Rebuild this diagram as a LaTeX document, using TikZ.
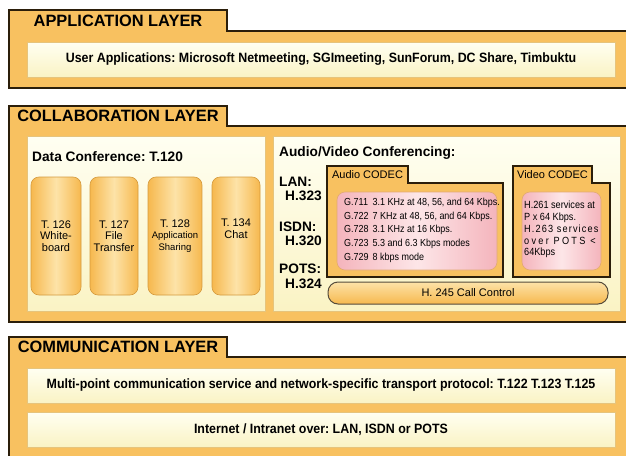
\documentclass[tikz,border=0pt]{standalone}
\usepackage{fontspec}
\setmainfont{Liberation Sans}
\newfontfamily\narrowsans[FakeStretch=0.92]{Liberation Sans}
\newfontfamily\codecsans[FakeStretch=0.88]{Liberation Sans}
\frenchspacing
\definecolor{layerorange}{HTML}{F8C160}
\definecolor{layerline}{HTML}{2B1E0A}
\definecolor{creamtop}{HTML}{FFFFF2}
\definecolor{creambot}{HTML}{FAF3C4}
\definecolor{barline}{HTML}{E6C47C}
\definecolor{pillorange}{HTML}{F6B84E}
\definecolor{pilllight}{HTML}{FDE3A8}
\definecolor{pillline}{HTML}{D49A3E}
\definecolor{pinkedge}{HTML}{F4B4BC}
\definecolor{pinklight}{HTML}{FDE6E8}
\definecolor{pinkline}{HTML}{E2AA72}
\begin{document}
\begin{tikzpicture}[x=1pt,y=-1pt,
    layer/.style={draw=layerline,line width=1.8pt,fill=layerorange},
    tablabel/.style={font=\bfseries\fontsize{16.4}{18}\selectfont},
    bar/.style={draw=barline,line width=0.8pt,top color=creamtop,bottom color=creambot,
      minimum width=588pt,minimum height=35pt,inner sep=0pt,
      font=\narrowsans\bfseries\fontsize{13.5}{15}\selectfont},
    panel/.style={draw=barline,line width=0.8pt,top color=creamtop,bottom color=creambot,
      minimum height=175pt,inner sep=0pt},
    heading/.style={anchor=west,inner sep=0pt,font=\bfseries\fontsize{13.7}{15}\selectfont},
    pill/.style={draw=pillline,line width=0.6pt,rounded corners=8pt,
      left color=pillorange,right color=pillorange,middle color=pilllight,
      minimum height=118pt,inner sep=0pt,align=center,font=\fontsize{11}{11.7}\selectfont},
    codec/.style={draw=layerline,line width=1.8pt,fill=layerorange},
    codeclabel/.style={font=\fontsize{11}{12}\selectfont},
    pinkbox/.style={draw=pinkline,line width=0.6pt,rounded corners=8pt,
      left color=pinkedge,right color=pinkedge,middle color=pinklight,
      minimum height=78pt,inner sep=0pt},
    callbox/.style={draw=layerline!80,line width=1pt,rounded corners=10pt,
      top color=pilllight,bottom color=pillorange,
      minimum width=280pt,minimum height=22pt,inner sep=0pt,
      font=\fontsize{11}{12}\selectfont}]
\useasboundingbox (0,0) rectangle (626,455);
\clip (0,0) rectangle (626,455);
\fill[white] (0,0) rectangle (626,455);

\draw[layer] (9,88) -- (9,10) -- (227,10) -- (227,31) -- (640,31) -- (640,88) -- cycle;
\node[tablabel] (apptab) at (118,21) {APPLICATION LAYER};
\node[bar] (apps) at (321,59.5) {User Applications: Microsoft Netmeeting, SGImeeting, SunForum, DC Share, Timbuktu};

\draw[layer] (9,322) -- (9,106) -- (227,106) -- (227,126) -- (640,126) -- (640,322) -- cycle;
\node[tablabel] (collabtab) at (118,116) {COLLABORATION LAYER};
\node[panel,minimum width=238pt] (dataconf) at (146,223.5) {};
\node[heading] (dctitle) at (32,157) {Data Conference: T.120};
\node[pill,minimum width=50pt] (t126) at (56,236) {T. 126\\White-\\board};
\node[pill,minimum width=48pt] (t127) at (114,236) {T. 127\\File\\Transfer};
\node[pill,minimum width=54pt] (t128) at (175,236) {T. 128\\{\fontsize{9.5}{11.7}\selectfont Application}\\{\fontsize{9.5}{11.7}\selectfont Sharing}};
\node[pill,minimum width=48pt] (t134) at (236,236) {T. 134\\Chat\\\strut};

\node[panel,minimum width=347pt] (avconf) at (446.5,223.5) {};
\node[heading] (avtitle) at (279,153) {Audio/Video Conferencing:};
\node[heading] (lan) at (279,182) {LAN:};
\node[heading,anchor=east] (h323) at (322,196) {H.323};
\node[heading] (isdn) at (279,227) {ISDN:};
\node[heading,anchor=east] (h320) at (322,241) {H.320};
\node[heading] (pots) at (279,269) {POTS:};
\node[heading,anchor=east] (h324) at (322,284) {H.324};

\draw[codec] (327,277) -- (327,166) -- (408,166) -- (408,183) -- (503,183) -- (503,277) -- cycle;
\node[codeclabel] (audiotab) at (367.5,174.5) {Audio CODEC};
\node[pinkbox,minimum width=160pt] (audiopink) at (417,231) {};
\node[anchor=west,inner sep=0pt,font=\codecsans\fontsize{10.2}{13.7}\selectfont] (audiolist) at (344,230)
  {\begin{tabular}{@{}l@{\hspace{4pt}}l@{}}
   G.711 & 3.1 KHz at 48, 56, and 64 Kbps.\\
   G.722 & 7 KHz at 48, 56, and 64 Kbps.\\
   G.728 & 3.1 KHz at 16 Kbps.\\
   G.723 & 5.3 and 6.3 Kbps modes\\
   G.729 & 8 kbps mode
   \end{tabular}};

\draw[codec] (513,277) -- (513,166) -- (592,166) -- (592,183) -- (610,183) -- (610,277) -- cycle;
\node[codeclabel] (videotab) at (552.5,174.5) {Video CODEC};
\node[pinkbox,minimum width=79pt] (videopink) at (561.5,231) {};
\node[anchor=north west,inner sep=0pt,align=left,font=\codecsans\fontsize{10.4}{11.5}\selectfont] (videolist) at (524,201)
  {H.261 services at\\
   P x 64 Kbps.\\[1pt]
   {\addfontfeature{LetterSpace=11}H.263 services}\\
   {\addfontfeature{LetterSpace=22}over POTS <}\\
   64Kbps};

\node[callbox] (callctl) at (468,293) {H. 245 Call Control};

\draw[layer] (9,470) -- (9,337) -- (227,337) -- (227,357) -- (640,357) -- (640,470) -- cycle;
\node[tablabel] (commtab) at (118,347) {COMMUNICATION LAYER};
\node[bar] (transport) at (321,385.5) {Multi-point communication service and network-specific transport protocol: T.122 T.123 T.125};
\node[bar] (network) at (321,429.5) {Internet / Intranet over: LAN, ISDN or POTS};
\end{tikzpicture}
\end{document}
